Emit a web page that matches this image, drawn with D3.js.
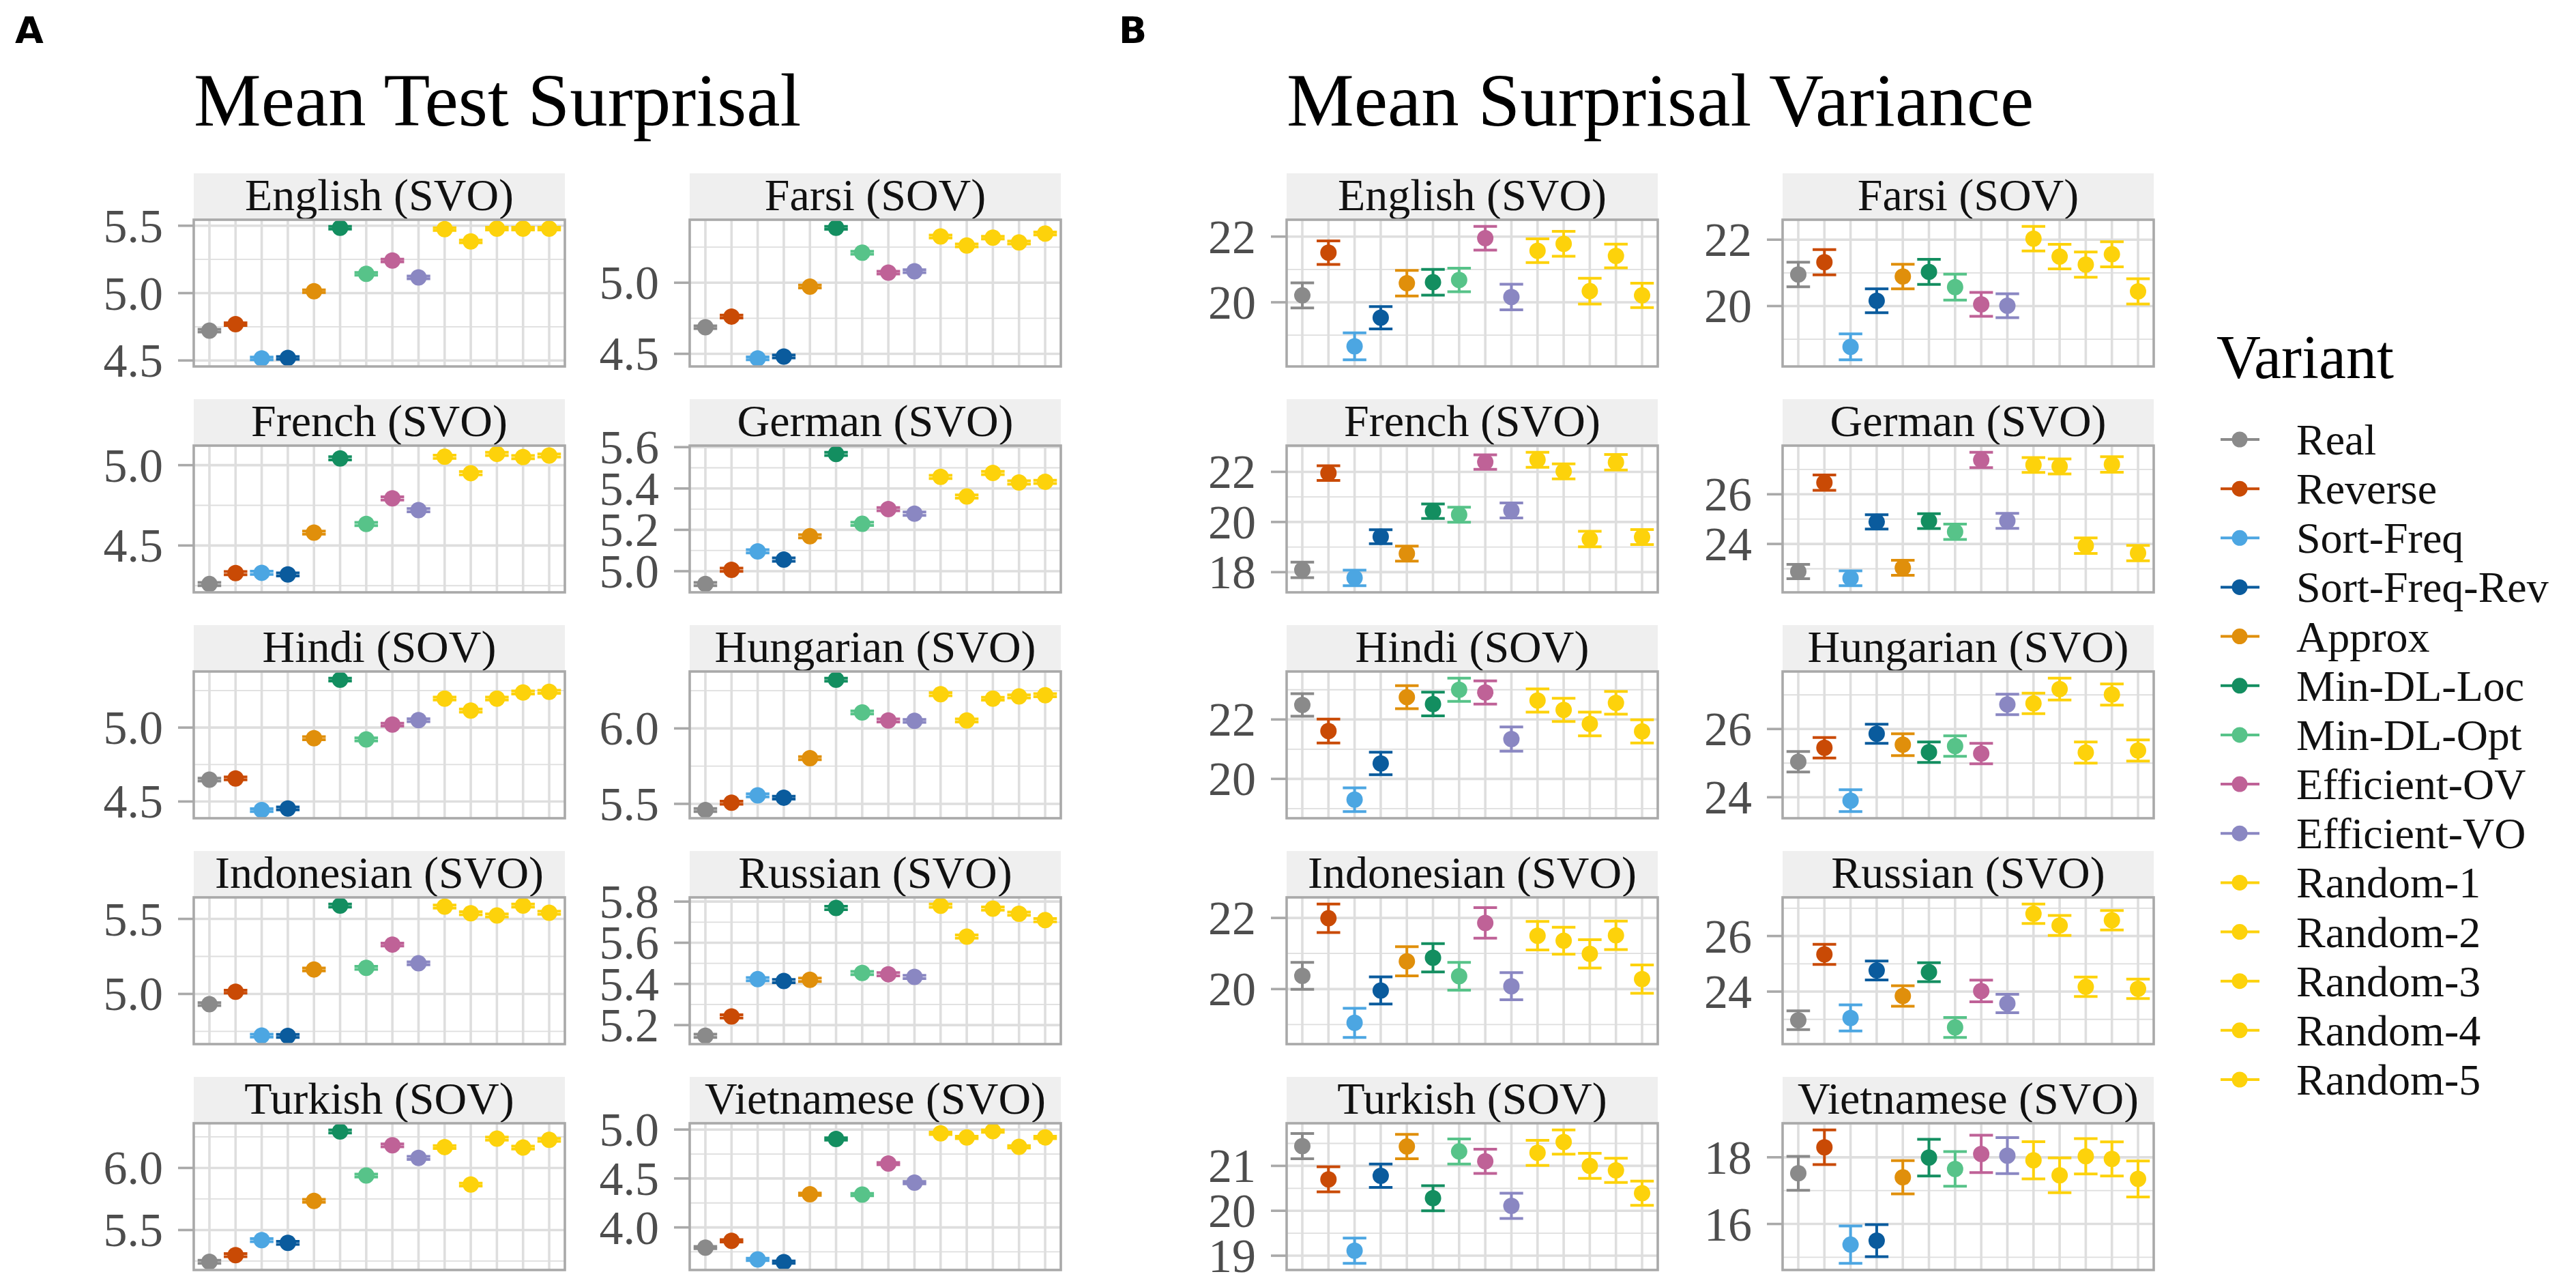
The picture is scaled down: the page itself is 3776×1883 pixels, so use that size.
<!DOCTYPE html>
<html><head><meta charset="utf-8">
<script src="https://cdn.jsdelivr.net/npm/d3@7"></script>
<style>html,body{margin:0;padding:0;background:#fff}</style>
</head><body><svg id="chart" width="3776" height="1883"></svg>
<script>
// ---------- DATA ----------
const variants = ["Real","Reverse","Sort-Freq","Sort-Freq-Rev","Approx","Min-DL-Loc","Min-DL-Opt",
  "Efficient-OV","Efficient-VO","Random-1","Random-2","Random-3","Random-4","Random-5"];
const variantColors = ["#8a8a8a","#c94a05","#4ca6e2","#0a5b9d","#e08f0b","#138e60","#57c389",
  "#bf6297","#8a87c2","#fdd20b","#fdd20b","#fdd20b","#fdd20b","#fdd20b"];
const languages = ["English (SVO)","Farsi (SOV)","French (SVO)","German (SVO)","Hindi (SOV)",
  "Hungarian (SVO)","Indonesian (SVO)","Russian (SVO)","Turkish (SOV)","Vietnamese (SVO)"];

// Panel A: mean test surprisal
const surpEnglish    = [4.721,4.770,4.515,4.519,5.014,5.485,5.143,5.242,5.117,5.475,5.384,5.479,5.479,5.479];
const surpFarsi      = [4.687,4.762,4.468,4.481,4.973,5.386,5.211,5.071,5.081,5.325,5.262,5.317,5.283,5.346];
const surpFrench     = [4.260,4.328,4.330,4.320,4.580,5.042,4.634,4.793,4.720,5.052,4.950,5.070,5.050,5.060];
const surpGerman     = [4.938,5.007,5.096,5.056,5.169,5.567,5.229,5.300,5.278,5.456,5.361,5.475,5.429,5.432];
const surpHindi      = [4.648,4.656,4.442,4.453,4.928,5.324,4.920,5.020,5.050,5.196,5.115,5.196,5.237,5.242];
const surpHungarian  = [5.459,5.508,5.556,5.541,5.803,6.323,6.106,6.053,6.050,6.227,6.053,6.197,6.212,6.220];
const surpIndonesian = [4.932,5.015,4.722,4.720,5.163,5.589,5.174,5.329,5.204,5.582,5.538,5.523,5.589,5.541];
const surpRussian    = [5.148,5.242,5.423,5.414,5.420,5.769,5.453,5.447,5.434,5.780,5.630,5.766,5.741,5.710];
const surpTurkish    = [5.244,5.298,5.419,5.397,5.735,6.294,5.939,6.182,6.081,6.168,5.866,6.236,6.164,6.226];
const surpVietnamese = [3.794,3.863,3.673,3.645,4.339,4.904,4.336,4.652,4.458,4.961,4.920,4.984,4.824,4.920];
const surpSE = [0.010,0.010,0.010,0.008,0.010,0.010,0.010,0.008,0.012,0.012];

// Panel B: mean surprisal variance, with error half-widths
const varEnglish    = [20.21,21.51,18.66,19.53,20.58,20.61,20.68,21.95,20.16,21.57,21.78,20.34,21.41,20.21];
const errEnglish    = [0.38,0.36,0.41,0.34,0.39,0.39,0.36,0.36,0.39,0.36,0.38,0.39,0.36,0.37];
const varFarsi      = [20.95,21.32,18.77,20.16,20.89,21.03,20.57,20.05,20.01,22.03,21.49,21.25,21.56,20.44];
const errFarsi      = [0.37,0.38,0.39,0.36,0.37,0.38,0.39,0.36,0.36,0.37,0.37,0.38,0.38,0.38];
const varFrench     = [18.09,21.95,17.77,19.41,18.74,20.43,20.29,22.39,20.46,22.48,22.02,19.32,22.38,19.40];
const errFrench     = [0.31,0.29,0.31,0.28,0.30,0.29,0.30,0.29,0.30,0.30,0.30,0.31,0.31,0.30];
const varGerman     = [22.89,26.47,22.62,24.89,23.04,24.92,24.49,27.38,24.93,27.18,27.12,23.93,27.20,23.63];
const errGerman     = [0.29,0.31,0.30,0.29,0.30,0.30,0.31,0.31,0.30,0.30,0.30,0.31,0.31,0.31];
const varHindi      = [22.49,21.61,19.30,20.52,22.75,22.52,23.00,22.91,21.34,22.64,22.32,21.85,22.56,21.60];
const errHindi      = [0.38,0.40,0.40,0.38,0.39,0.40,0.39,0.39,0.41,0.39,0.39,0.40,0.38,0.39];
const varHungarian  = [25.04,25.45,23.90,25.86,25.54,25.32,25.50,25.28,26.72,26.75,27.17,25.31,27.01,25.37];
const errHungarian  = [0.30,0.30,0.32,0.28,0.32,0.30,0.30,0.30,0.30,0.30,0.32,0.31,0.31,0.31];
const varIndonesian = [20.37,21.99,19.05,19.96,20.78,20.88,20.36,21.86,20.08,21.50,21.36,20.99,21.51,20.28];
const errIndonesian = [0.38,0.40,0.41,0.38,0.41,0.40,0.39,0.43,0.38,0.40,0.38,0.40,0.40,0.40];
const varRussian    = [22.97,25.34,23.05,24.76,23.84,24.70,22.71,24.02,23.57,26.80,26.38,24.17,26.57,24.10];
const errRussian    = [0.34,0.36,0.47,0.34,0.37,0.34,0.36,0.39,0.33,0.35,0.36,0.35,0.35,0.35];
const varTurkish    = [21.44,20.70,19.11,20.78,21.43,20.28,21.32,21.10,20.11,21.29,21.53,21.00,20.90,20.39];
const errTurkish    = [0.28,0.28,0.28,0.26,0.27,0.28,0.28,0.27,0.28,0.28,0.27,0.28,0.27,0.27];
const varVietnamese = [17.52,18.30,15.38,15.50,17.40,17.99,17.65,18.10,18.05,17.91,17.46,18.03,17.95,17.35];
const errVietnamese = [0.51,0.52,0.56,0.48,0.50,0.55,0.52,0.56,0.54,0.56,0.52,0.53,0.51,0.54];

// Tick labels
const ticksSurp = [[4.5,5.0,5.5],[4.5,5.0],[4.5,5.0],[5.0,5.2,5.4,5.6],[4.5,5.0],
  [5.5,6.0],[5.0,5.5],[5.2,5.4,5.6,5.8],[5.5,6.0],[4.0,4.5,5.0]];
const ticksVar = [[20,22],[20,22],[18,20,22],[24,26],[20,22],[24,26],[20,22],[24,26],[19,20,21],[16,18]];

const titleA = "Mean Test Surprisal";
const titleB = "Mean Surprisal Variance";
const legendTitle = "Variant";

// ---------- LAYOUT ----------
const surpValues = [surpEnglish,surpFarsi,surpFrench,surpGerman,surpHindi,surpHungarian,surpIndonesian,surpRussian,surpTurkish,surpVietnamese];
const varValues = [varEnglish,varFarsi,varFrench,varGerman,varHindi,varHungarian,varIndonesian,varRussian,varTurkish,varVietnamese];
const varErrs = [errEnglish,errFarsi,errFrench,errGerman,errHindi,errHungarian,errIndonesian,errRussian,errTurkish,errVietnamese];

const W = 544, STRIP_H = 68, PANEL_H = 215, ROW0 = 254, ROW_PITCH = 331;
const colsA = [284, 1011], colsB = [1886, 2613];
const SERIF = "'Liberation Serif','Times New Roman',serif";
const GRID = "#dedede", BORDER = "#a9a9a9";

const svg = d3.select("#chart");
svg.append("rect").attr("width",3776).attr("height",1883).attr("fill","#fff");

function drawPanel(x0, row, vals, errs, ticks, fmt, label) {
  const sTop = ROW0 + row*ROW_PITCH;
  const pTop = sTop + STRIP_H, pBot = pTop + PANEL_H;
  const g = svg.append("g");
  // strip
  g.append("rect").attr("x",x0).attr("y",sTop).attr("width",W).attr("height",STRIP_H).attr("fill","#efefef");
  g.append("text").attr("x",x0+W/2).attr("y",sTop+54).attr("text-anchor","middle")
    .attr("font-family",SERIF).attr("font-size",66).attr("fill","#111").text(label);
  // scales
  const lo = d3.min(vals.map((v,i)=>v-errs[i])), hi = d3.max(vals.map((v,i)=>v+errs[i]));
  const pad = (hi-lo)*0.05;
  const y = d3.scaleLinear().domain([lo-pad, hi+pad]).range([pBot, pTop]);
  const x = d3.scalePoint().domain(variants).range([x0, x0+W]).padding(0.6);
  // minor grid
  const step = ticks.length>1 ? ticks[1]-ticks[0] : 0.5;
  const ext = [ticks[0]-step, ...ticks, ticks[ticks.length-1]+step];
  const minors = [];
  for (let i=0;i<ext.length-1;i++) minors.push((ext[i]+ext[i+1])/2);
  const dom = y.domain();
  g.selectAll(".mn").data(minors.filter(v=>v>=dom[0]&&v<=dom[1])).enter().append("line")
    .attr("x1",x0).attr("x2",x0+W).attr("y1",d=>y(d)).attr("y2",d=>y(d))
    .attr("stroke",GRID).attr("stroke-width",1.8);
  g.selectAll(".mj").data(ticks).enter().append("line")
    .attr("x1",x0).attr("x2",x0+W).attr("y1",d=>y(d)).attr("y2",d=>y(d))
    .attr("stroke",GRID).attr("stroke-width",3.6);
  g.selectAll(".vx").data(variants).enter().append("line")
    .attr("x1",d=>x(d)).attr("x2",d=>x(d)).attr("y1",pTop).attr("y2",pBot)
    .attr("stroke",GRID).attr("stroke-width",3.6);
  // ticks + labels
  g.selectAll(".tk").data(ticks).enter().append("line")
    .attr("x1",x0-23).attr("x2",x0).attr("y1",d=>y(d)).attr("y2",d=>y(d))
    .attr("stroke",BORDER).attr("stroke-width",3.6);
  g.selectAll(".tl").data(ticks).enter().append("text")
    .attr("x",x0-45).attr("y",d=>y(d)+24).attr("text-anchor","end")
    .attr("font-family",SERIF).attr("font-size",70).attr("fill","#4d4d4d").text(fmt);
  // error bars
  const half = x.step()*0.45;
  const eb = g.selectAll(".eb").data(variants).enter().append("g")
    .attr("stroke",(d,i)=>variantColors[i]).attr("stroke-width",4);
  eb.append("line").attr("x1",d=>x(d)).attr("x2",d=>x(d))
    .attr("y1",(d,i)=>y(vals[i]-errs[i])).attr("y2",(d,i)=>y(vals[i]+errs[i]));
  eb.append("line").attr("x1",d=>x(d)-half).attr("x2",d=>x(d)+half)
    .attr("y1",(d,i)=>y(vals[i]-errs[i])).attr("y2",(d,i)=>y(vals[i]-errs[i]));
  eb.append("line").attr("x1",d=>x(d)-half).attr("x2",d=>x(d)+half)
    .attr("y1",(d,i)=>y(vals[i]+errs[i])).attr("y2",(d,i)=>y(vals[i]+errs[i]));
  // points
  g.selectAll(".pt").data(variants).enter().append("circle")
    .attr("cx",d=>x(d)).attr("cy",(d,i)=>y(vals[i])).attr("r",12)
    .attr("fill",(d,i)=>variantColors[i]);
  // border
  g.append("rect").attr("x",x0).attr("y",pTop).attr("width",W).attr("height",PANEL_H)
    .attr("fill","none").attr("stroke",BORDER).attr("stroke-width",3.6);
}

languages.forEach((lang, k) => {
  const row = Math.floor(k/2), col = k%2;
  drawPanel(colsA[col], row, surpValues[k], surpValues[k].map(()=>surpSE[k]), ticksSurp[k], d3.format(".1f"), lang);
  drawPanel(colsB[col], row, varValues[k], varErrs[k], ticksVar[k], d3.format("d"), lang);
});

// titles and tags
svg.append("text").attr("x",colsA[0]).attr("y",184).attr("font-family",SERIF).attr("font-size",111).attr("fill","#000").text(titleA);
svg.append("text").attr("x",colsB[0]).attr("y",184).attr("font-family",SERIF).attr("font-size",111).attr("fill","#000").text(titleB);
svg.append("text").attr("x",22).attr("y",63).attr("font-family","'DejaVu Sans','Liberation Sans',sans-serif")
  .attr("font-weight","bold").attr("font-size",54).text("A");
svg.append("text").attr("x",1640).attr("y",63).attr("font-family","'DejaVu Sans','Liberation Sans',sans-serif")
  .attr("font-weight","bold").attr("font-size",54).text("B");

// legend
const lg = svg.append("g");
lg.append("text").attr("x",3249).attr("y",554).attr("font-family",SERIF).attr("font-size",90).text(legendTitle);
const ly = d3.scaleLinear().domain([0, variants.length-1]).range([644, 1582]);
const items = lg.selectAll(".li").data(variants).enter().append("g")
  .attr("transform",(d,i)=>`translate(0,${ly(i)})`);
items.append("line").attr("x1",3255).attr("x2",3312).attr("y1",0).attr("y2",0)
  .attr("stroke",(d,i)=>variantColors[i]).attr("stroke-width",4);
items.append("circle").attr("cx",3283).attr("cy",0).attr("r",11.5).attr("fill",(d,i)=>variantColors[i]);
items.append("text").attr("x",3366).attr("y",22).attr("font-family",SERIF).attr("font-size",64).attr("fill","#111").text(d=>d);
</script>
</body></html>
